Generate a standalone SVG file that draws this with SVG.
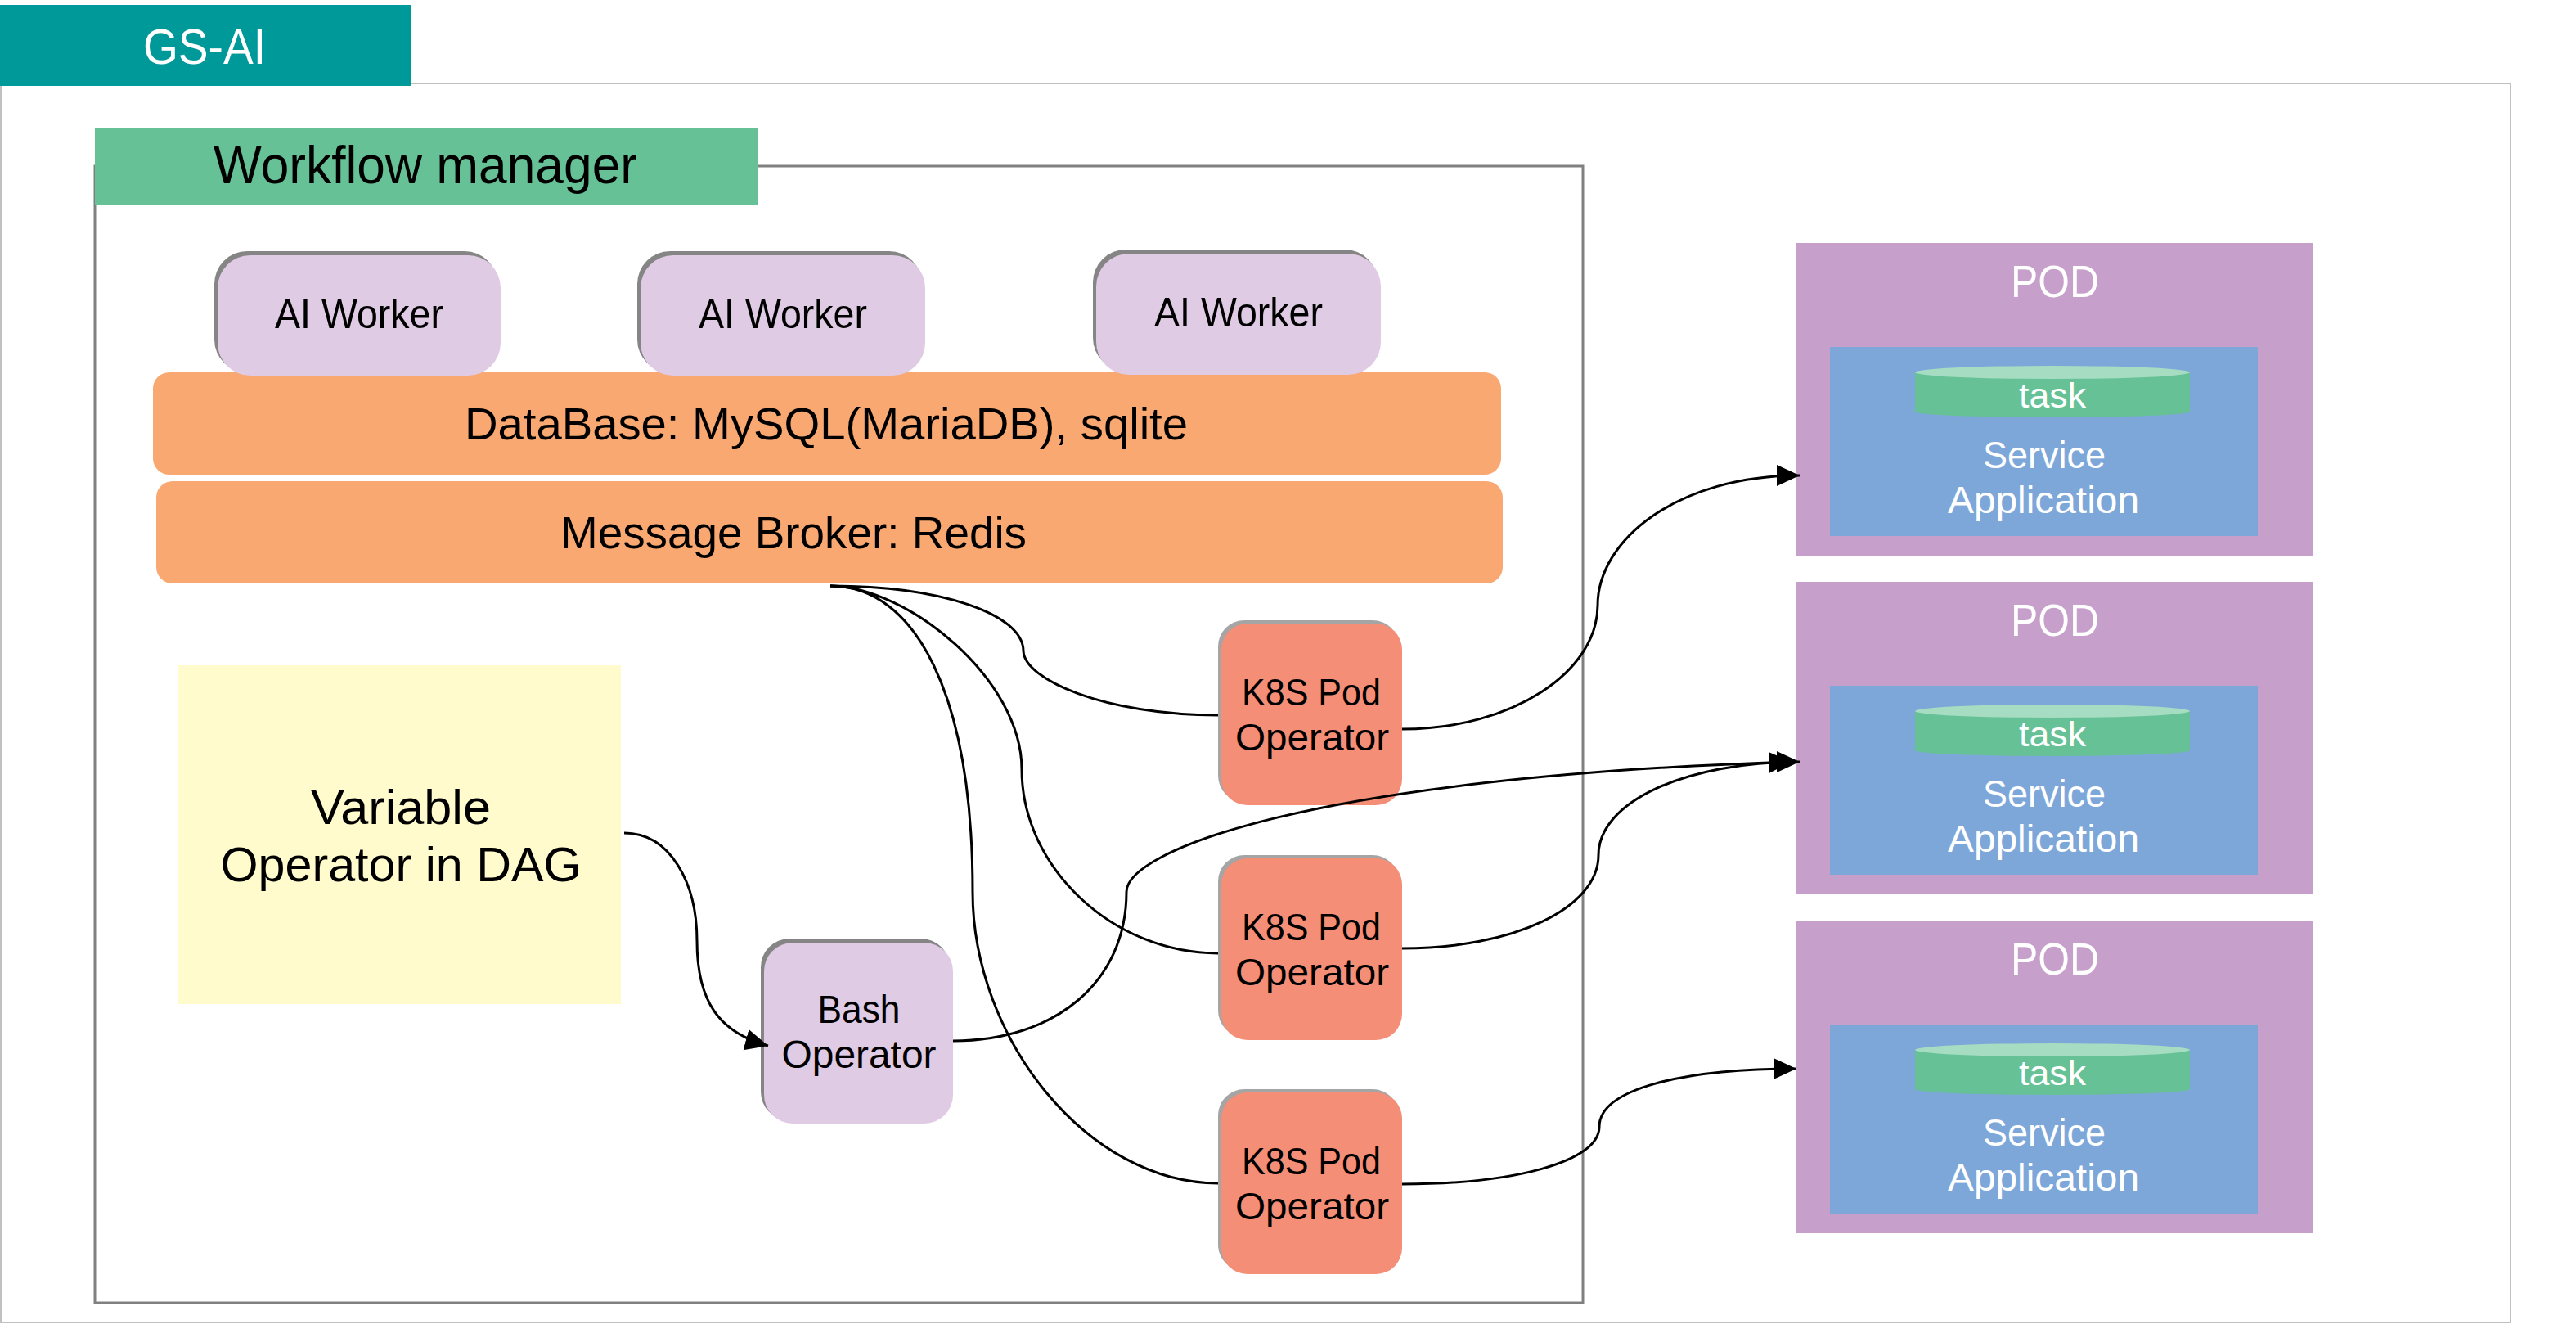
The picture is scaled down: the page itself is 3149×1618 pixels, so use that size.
<svg xmlns="http://www.w3.org/2000/svg" width="3149" height="1618" viewBox="0 0 3149 1618">
<style>
text { font-family: "Liberation Sans", Arial, sans-serif; }
.blk { fill: #000000; }
.wht { fill: #ffffff; }
.shadow { fill: #858585; }
.kshadow { fill: #A5A5A5; }
.worker { fill: #E0CBE4; }
.k8s { fill: #F58E76; }
.bar { fill: #F8A870; }
.pod { fill: #C6A0CB; }
.app { fill: #7DA7D9; }
.cylbody { fill: #66C296; }
.cyltop { fill: #A5DCC2; }
.conn { fill: none; stroke: #000000; stroke-width: 3; }
</style>
<defs>
<marker id="arr" markerUnits="userSpaceOnUse" markerWidth="30" markerHeight="28" refX="28" refY="13" orient="auto">
<path d="M0,0 L28,13 L0,26 Z" fill="#000000"/>
</marker>
</defs>
<rect width="3149" height="1618" fill="#ffffff"/>

<g id="gs-ai-frame">
<rect x="1" y="102" width="3068" height="1514" fill="none" stroke="#C0C0C0" stroke-width="2"/>
<rect x="0" y="6" width="503" height="99" fill="#009999"/>
<text x="250" y="78" class="wht" font-size="62" text-anchor="middle" textLength="150" lengthAdjust="spacingAndGlyphs">GS-AI</text>
</g>

<g id="workflow-manager">
<rect x="116" y="203" width="1819" height="1389" fill="none" stroke="#808080" stroke-width="3"/>
<rect x="116" y="156" width="811" height="95" fill="#66C296"/>
<text x="261" y="224" class="blk" font-size="64" textLength="518" lengthAdjust="spacingAndGlyphs">Workflow manager</text>
</g>

<g id="database">
<rect x="187" y="455" width="1648" height="125" rx="20" class="bar"/>
<text x="1010" y="537" class="blk" font-size="56" text-anchor="middle" textLength="884" lengthAdjust="spacingAndGlyphs">DataBase: MySQL(MariaDB), sqlite</text>
</g>

<g id="message-broker">
<rect x="191" y="588" width="1646" height="125" rx="20" class="bar"/>
<text x="970" y="670" class="blk" font-size="56" text-anchor="middle" textLength="570" lengthAdjust="spacingAndGlyphs">Message Broker: Redis</text>
</g>

<g id="ai-worker-1">
<rect x="262" y="307" width="346" height="148" rx="40" class="shadow"/>
<rect x="266" y="312" width="346" height="147" rx="40" class="worker"/>
<text x="439" y="401" class="blk" font-size="50" text-anchor="middle" textLength="206" lengthAdjust="spacingAndGlyphs">AI Worker</text>
</g>
<g id="ai-worker-2">
<rect x="779" y="307" width="348" height="148" rx="40" class="shadow"/>
<rect x="783" y="312" width="348" height="147" rx="40" class="worker"/>
<text x="957" y="401" class="blk" font-size="50" text-anchor="middle" textLength="206" lengthAdjust="spacingAndGlyphs">AI Worker</text>
</g>
<g id="ai-worker-3">
<rect x="1336" y="305" width="348" height="148" rx="40" class="shadow"/>
<rect x="1340" y="310" width="348" height="148" rx="40" class="worker"/>
<text x="1514" y="399" class="blk" font-size="50" text-anchor="middle" textLength="206" lengthAdjust="spacingAndGlyphs">AI Worker</text>
</g>

<g id="variable-operator">
<rect x="217" y="813" width="542" height="414" fill="#FFFBCD"/>
<text x="490" y="1007" class="blk" font-size="60" text-anchor="middle" textLength="220" lengthAdjust="spacingAndGlyphs">Variable</text>
<text x="490" y="1077" class="blk" font-size="60" text-anchor="middle" textLength="441" lengthAdjust="spacingAndGlyphs">Operator in DAG</text>
</g>

<g id="bash-operator">
<rect x="930" y="1147" width="231" height="222" rx="35" class="shadow"/>
<rect x="934" y="1152" width="231" height="221" rx="35" class="worker"/>
<text x="1050" y="1250" class="blk" font-size="48" text-anchor="middle" textLength="101" lengthAdjust="spacingAndGlyphs">Bash</text>
<text x="1050" y="1305" class="blk" font-size="48" text-anchor="middle" textLength="189" lengthAdjust="spacingAndGlyphs">Operator</text>
</g>

<g id="k8s-pod-operator-1">
<rect x="1489" y="758" width="221" height="222" rx="32" class="kshadow"/>
<rect x="1493" y="762" width="221" height="222" rx="32" class="k8s"/>
<text x="1603" y="862" class="blk" font-size="47" text-anchor="middle" textLength="170" lengthAdjust="spacingAndGlyphs">K8S Pod</text>
<text x="1604" y="917" class="blk" font-size="47" text-anchor="middle" textLength="188" lengthAdjust="spacingAndGlyphs">Operator</text>
</g>
<g id="k8s-pod-operator-2">
<rect x="1489" y="1045" width="221" height="222" rx="32" class="kshadow"/>
<rect x="1493" y="1049" width="221" height="222" rx="32" class="k8s"/>
<text x="1603" y="1149" class="blk" font-size="47" text-anchor="middle" textLength="170" lengthAdjust="spacingAndGlyphs">K8S Pod</text>
<text x="1604" y="1204" class="blk" font-size="47" text-anchor="middle" textLength="188" lengthAdjust="spacingAndGlyphs">Operator</text>
</g>
<g id="k8s-pod-operator-3">
<rect x="1489" y="1331" width="221" height="222" rx="32" class="kshadow"/>
<rect x="1493" y="1335" width="221" height="222" rx="32" class="k8s"/>
<text x="1603" y="1435" class="blk" font-size="47" text-anchor="middle" textLength="170" lengthAdjust="spacingAndGlyphs">K8S Pod</text>
<text x="1604" y="1490" class="blk" font-size="47" text-anchor="middle" textLength="188" lengthAdjust="spacingAndGlyphs">Operator</text>
</g>

<g id="pod-1">
<rect x="2195" y="297" width="633" height="382" class="pod"/>
<text x="2512" y="363" class="wht" font-size="56" text-anchor="middle" textLength="108" lengthAdjust="spacingAndGlyphs">POD</text>
<rect x="2237" y="424" width="523" height="231" class="app"/>
<rect x="2341" y="455" width="336" height="48" class="cylbody"/>
<ellipse cx="2509" cy="503" rx="168" ry="7" class="cylbody"/>
<ellipse cx="2509" cy="455" rx="168" ry="8" class="cyltop"/>
<text x="2509" y="498" class="wht" font-size="42" text-anchor="middle" textLength="82" lengthAdjust="spacingAndGlyphs">task</text>
<text x="2499" y="572" class="wht" font-size="46" text-anchor="middle" textLength="150" lengthAdjust="spacingAndGlyphs">Service</text>
<text x="2498" y="627" class="wht" font-size="46" text-anchor="middle" textLength="234" lengthAdjust="spacingAndGlyphs">Application</text>
</g>
<g id="pod-2">
<rect x="2195" y="711" width="633" height="382" class="pod"/>
<text x="2512" y="777" class="wht" font-size="56" text-anchor="middle" textLength="108" lengthAdjust="spacingAndGlyphs">POD</text>
<rect x="2237" y="838" width="523" height="231" class="app"/>
<rect x="2341" y="869" width="336" height="48" class="cylbody"/>
<ellipse cx="2509" cy="917" rx="168" ry="7" class="cylbody"/>
<ellipse cx="2509" cy="869" rx="168" ry="8" class="cyltop"/>
<text x="2509" y="912" class="wht" font-size="42" text-anchor="middle" textLength="82" lengthAdjust="spacingAndGlyphs">task</text>
<text x="2499" y="986" class="wht" font-size="46" text-anchor="middle" textLength="150" lengthAdjust="spacingAndGlyphs">Service</text>
<text x="2498" y="1041" class="wht" font-size="46" text-anchor="middle" textLength="234" lengthAdjust="spacingAndGlyphs">Application</text>
</g>
<g id="pod-3">
<rect x="2195" y="1125" width="633" height="382" class="pod"/>
<text x="2512" y="1191" class="wht" font-size="56" text-anchor="middle" textLength="108" lengthAdjust="spacingAndGlyphs">POD</text>
<rect x="2237" y="1252" width="523" height="231" class="app"/>
<rect x="2341" y="1283" width="336" height="48" class="cylbody"/>
<ellipse cx="2509" cy="1331" rx="168" ry="7" class="cylbody"/>
<ellipse cx="2509" cy="1283" rx="168" ry="8" class="cyltop"/>
<text x="2509" y="1326" class="wht" font-size="42" text-anchor="middle" textLength="82" lengthAdjust="spacingAndGlyphs">task</text>
<text x="2499" y="1400" class="wht" font-size="46" text-anchor="middle" textLength="150" lengthAdjust="spacingAndGlyphs">Service</text>
<text x="2498" y="1455" class="wht" font-size="46" text-anchor="middle" textLength="234" lengthAdjust="spacingAndGlyphs">Application</text>
</g>

<g id="connectors">
<path class="conn" d="M1015,716 C1150,716 1250,750 1251,795 C1251,830 1350,874 1489,874"/>
<path class="conn" d="M1015,716 C1110,717 1249,830 1249,940 C1249,1060 1360,1165 1489,1165"/>
<path class="conn" d="M1015,716 C1120,716 1189,850 1189,1090 C1189,1270 1330,1446 1489,1446"/>
<path class="conn" d="M763,1018 C820,1018 852,1080 852,1150 C852,1225 880,1262 939,1278" marker-end="url(#arr)"/>
<path class="conn" d="M1165,1272 C1290,1272 1377,1200 1377,1090 C1377,1040 1600,950 2190,931" marker-end="url(#arr)"/>
<path class="conn" d="M1714,891 C1850,891 1953,820 1953,740 C1953,660 2050,581 2200,581" marker-end="url(#arr)"/>
<path class="conn" d="M1714,1159 C1850,1159 1954,1110 1954,1045 C1954,980 2060,931 2200,931" marker-end="url(#arr)"/>
<path class="conn" d="M1714,1447 C1850,1447 1955,1420 1955,1377 C1955,1330 2060,1306 2196,1306" marker-end="url(#arr)"/>
</g>
</svg>
